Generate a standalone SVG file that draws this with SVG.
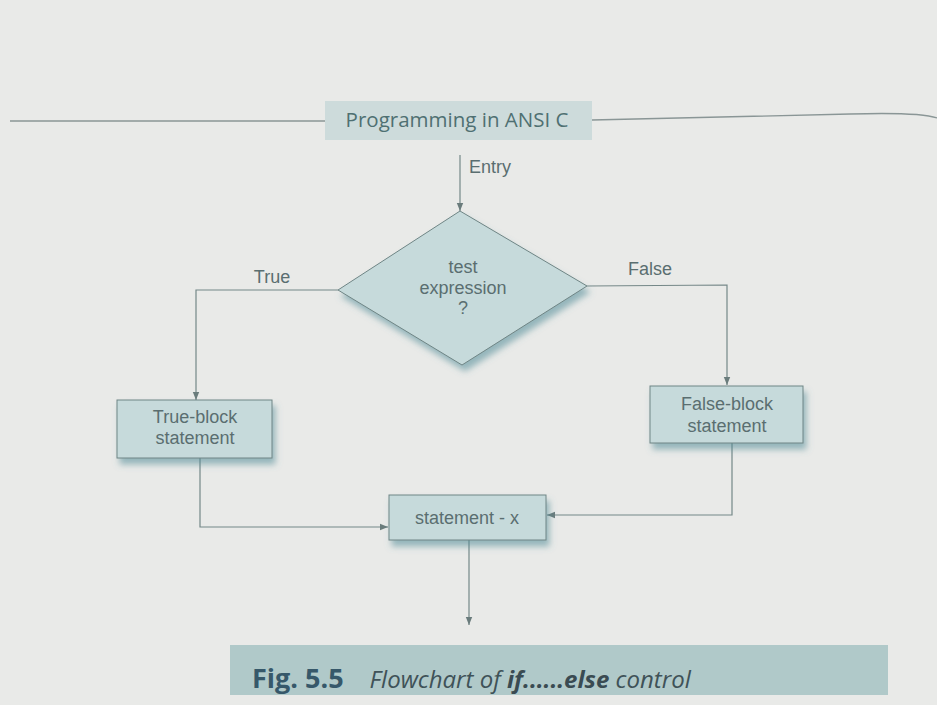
<svg xmlns="http://www.w3.org/2000/svg" width="937" height="705" viewBox="0 0 937 705">
<defs>
<marker id="arr" viewBox="0 0 10 10" refX="10" refY="5" markerWidth="8" markerHeight="8" orient="auto" markerUnits="userSpaceOnUse">
<path d="M0,1 L10,5 L0,9 Z" fill="#6a7c7c"/>
</marker>
<filter id="sh" x="-20%" y="-20%" width="150%" height="160%">
<feGaussianBlur in="SourceAlpha" stdDeviation="3"/>
<feOffset dx="3" dy="6" result="b"/>
<feFlood flood-color="#4f8a96" flood-opacity="0.55"/>
<feComposite in2="b" operator="in"/>
<feMerge><feMergeNode/><feMergeNode in="SourceGraphic"/></feMerge>
</filter>
</defs>
<style>
.box{fill:#c6dadb;stroke:#6f8585;stroke-width:1}
.lbl{font-family:"Liberation Sans",Arial,sans-serif;font-size:18px;fill:#5a6e70;text-anchor:middle}
.conn{fill:none;stroke:#758888;stroke-width:1.2}
</style>
<rect width="937" height="705" fill="#e9eae8"/>
<g id="header">
<path d="M10,121 L325,121" stroke="#8a9696" stroke-width="1.3" fill="none"/>
<path d="M592,120 L850,114 Q920,112 937,118" stroke="#8a9696" stroke-width="1.3" fill="none"/>
<rect x="325" y="101" width="267" height="39" fill="#cddbdb"/>
<text x="457" y="127" font-family="'Open Sans','Noto Sans',sans-serif" font-size="20.5" fill="#4f7072" text-anchor="middle">Programming in ANSI C</text>
</g>
<g id="connectors">
<path class="conn" d="M460,155 L460,211" marker-end="url(#arr)"/>
<path class="conn" d="M338,290 L196,290 L196,400" marker-end="url(#arr)"/>
<path class="conn" d="M587,286 L727,285 L727,385" marker-end="url(#arr)"/>
<path class="conn" d="M200,458 L200,527 L388,527" marker-end="url(#arr)"/>
<path class="conn" d="M732,443 L732,515 L547,515" marker-end="url(#arr)"/>
<path class="conn" d="M469,540 L469,625" marker-end="url(#arr)"/>
</g>
<g id="labels">
<text class="lbl" x="490" y="173">Entry</text>
<text class="lbl" x="272" y="283">True</text>
<text class="lbl" x="650" y="275">False</text>
</g>
<g id="decision">
<polygon class="box" points="460,211 587,286 462,365 338,290" filter="url(#sh)"/>
<text class="lbl" x="463" y="273">test</text>
<text class="lbl" x="463" y="294">expression</text>
<text class="lbl" x="463" y="314">?</text>
</g>
<g id="trueblock">
<rect class="box" x="117" y="400" width="155" height="58" filter="url(#sh)"/>
<text class="lbl" x="195" y="423">True-block</text>
<text class="lbl" x="195" y="444">statement</text>
</g>
<g id="falseblock">
<rect class="box" x="650" y="386" width="153" height="57" filter="url(#sh)"/>
<text class="lbl" x="727" y="410">False-block</text>
<text class="lbl" x="727" y="432">statement</text>
</g>
<g id="statementx">
<rect class="box" x="389" y="495" width="157" height="45" filter="url(#sh)"/>
<text class="lbl" x="467" y="524">statement - x</text>
</g>
<g id="caption">
<rect x="230" y="645" width="658" height="50" fill="#b0c9c9"/>
<text x="252" y="688" font-family="'Open Sans','Noto Sans',sans-serif" font-size="27" fill="#36586a"><tspan font-weight="bold">Fig. 5.5</tspan><tspan dx="26" font-style="italic" font-size="24" fill="#3f5258">Flowchart of </tspan><tspan font-style="italic" font-weight="bold" font-size="24" fill="#3a4b52">if......else</tspan><tspan font-style="italic" font-size="24" fill="#3f5258"> control</tspan></text>
</g>
</svg>
